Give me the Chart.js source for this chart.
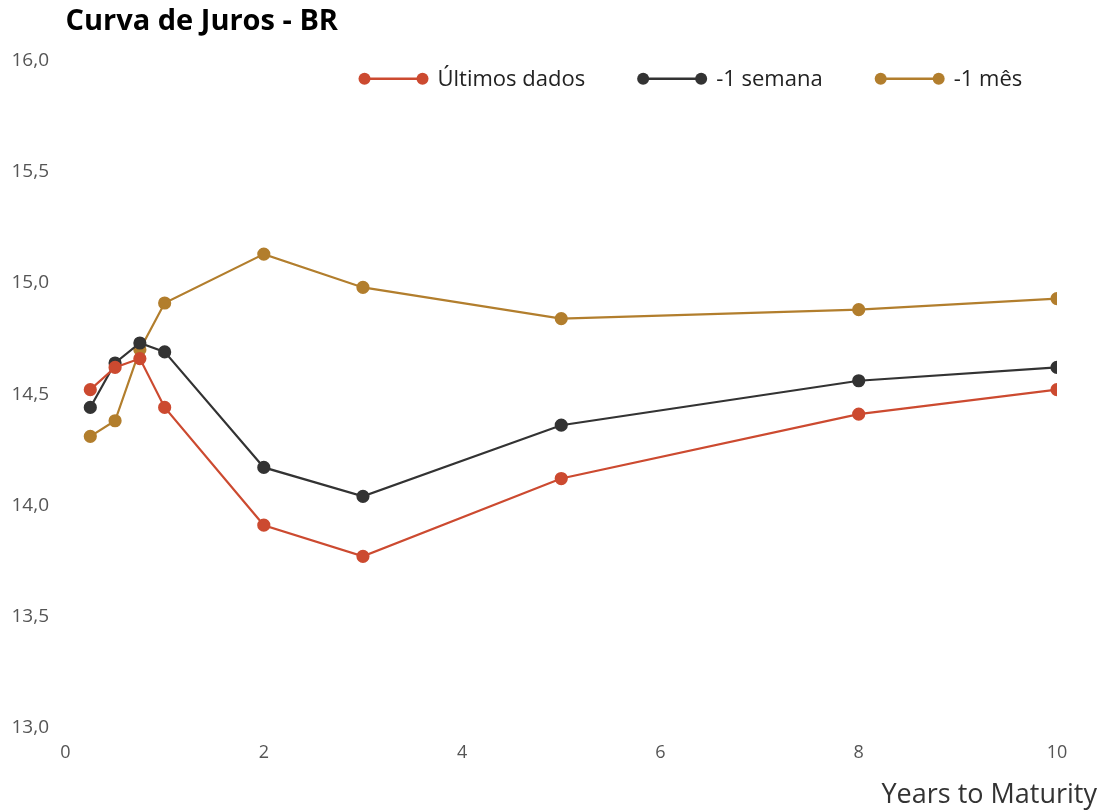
<!DOCTYPE html>
<html>
<head>
<meta charset="utf-8">
<script src="https://cdn.jsdelivr.net/npm/chart.js@4"></script>
<style>
	html, body { margin: 0; padding: 0; background: #fff; }
	#wrap { width: 1101px; height: 811px; }
</style>
</head>
<body>
<div id="wrap"><canvas id="chart1"></canvas></div>
<script>
// data
const maturities = [0.25, 0.5, 0.75, 1, 2, 3, 5, 8, 10];
const ultimosDados = [14.52, 14.62, 14.66, 14.44, 13.91, 13.77, 14.12, 14.41, 14.52];
const umaSemana = [14.44, 14.64, 14.73, 14.69, 14.17, 14.04, 14.36, 14.56, 14.62];
const umMes = [14.31, 14.38, 14.70, 14.91, 15.13, 14.98, 14.84, 14.88, 14.93];
const seriesLabels = ['Últimos dados', '-1 semana', '-1 mês'];
const xTicks = [0, 2, 4, 6, 8, 10];
const yTicks = [13.0, 13.5, 14.0, 14.5, 15.0, 15.5, 16.0];
const xAxisTitle = 'Years to Maturity';

const colors = ['#cc4a30', '#333333', '#b27e2d'];
const fontFamily = '"Open Sans", "Noto Sans", sans-serif';

function toPoints(values) {
	return maturities.map((m, i) => ({ x: m, y: values[i] }));
}

//legend drawn inside the plot (line with a dot on each end) + x axis title on the right edge
const lineLegend = {
	id: 'lineLegend',
	afterDraw(chart, args, options) {
		const {ctx, chartArea: {left, top}} = chart;
		let x = left + options.offsetX;
		const y = top + options.offsetY;
		ctx.save();
		ctx.font = options.fontSize + 'px ' + fontFamily;
		ctx.textBaseline = 'middle';
		ctx.textAlign = 'left';
		chart.data.datasets.forEach(ds => {
			ctx.strokeStyle = ds.borderColor;
			ctx.fillStyle = ds.borderColor;
			ctx.lineWidth = 2.5;
			ctx.beginPath();
			ctx.moveTo(x + 6, y);
			ctx.lineTo(x + 64, y);
			ctx.stroke();
			[x + 6, x + 64].forEach(cx => {
				ctx.beginPath();
				ctx.arc(cx, y, 6, 0, Math.PI * 2);
				ctx.fill();
			});
			ctx.fillStyle = '#222';
			ctx.fillText(ds.label, x + 79, y + 1);
			x += 79 + ctx.measureText(ds.label).width + 52;
		});
		// axis title
		ctx.font = '27px ' + fontFamily;
		ctx.fillStyle = '#333';
		ctx.textAlign = 'right';
		ctx.fillText(xAxisTitle, chart.width - 4, 795);
		ctx.restore();
	}
};

let datasets = [ultimosDados, umaSemana, umMes].map((values, index) => {
	return {
		label: seriesLabels[index],
		data: toPoints(values),
		borderColor: colors[index],
		backgroundColor: colors[index],
		borderWidth: 2.2,
		pointRadius: 5.5,
		pointHoverRadius: 6,
		tension: 0
	};
});

new Chart(document.getElementById('chart1'), {
	type: 'line',
	data: { datasets: datasets },
	options: {
		responsive: true,
		maintainAspectRatio: false,
		animation: false,
		layout: { padding: { left: 3, right: 44, top: 4, bottom: 40 } },
		plugins: {
			title: {
				display: true,
				text: 'Curva de Juros - BR',
				align: 'start',
				fullSize: false,
				color: '#000',
				font: { family: fontFamily, size: 29, weight: 'bold' },
				padding: { top: 0, bottom: 22 }
			},
			legend: { display: false },
			tooltip: { enabled: false },
			lineLegend: { offsetX: 293, offsetY: 18, fontSize: 22 }
		},
		scales: {
			x: {
				type: 'linear',
				min: 0,
				max: 10,
				grid: { display: false },
				border: { display: false },
				afterBuildTicks: axis => { axis.ticks = xTicks.map(v => ({ value: v })); },
				ticks: {
					color: '#555',
					padding: 7,
					font: { family: fontFamily, size: 18 }
				}
			},
			y: {
				min: 13,
				max: 16,
				grid: { display: false },
				border: { display: false },
				afterBuildTicks: axis => { axis.ticks = yTicks.map(v => ({ value: v })); },
				ticks: {
					color: '#555',
					padding: 8.5,
					font: { family: fontFamily, size: 19 },
					callback: function(value) {
						return value.toFixed(1).replace('.', ',');
					}
				}
			}
		}
	},
	plugins: [lineLegend]
});
</script>
</body>
</html>
